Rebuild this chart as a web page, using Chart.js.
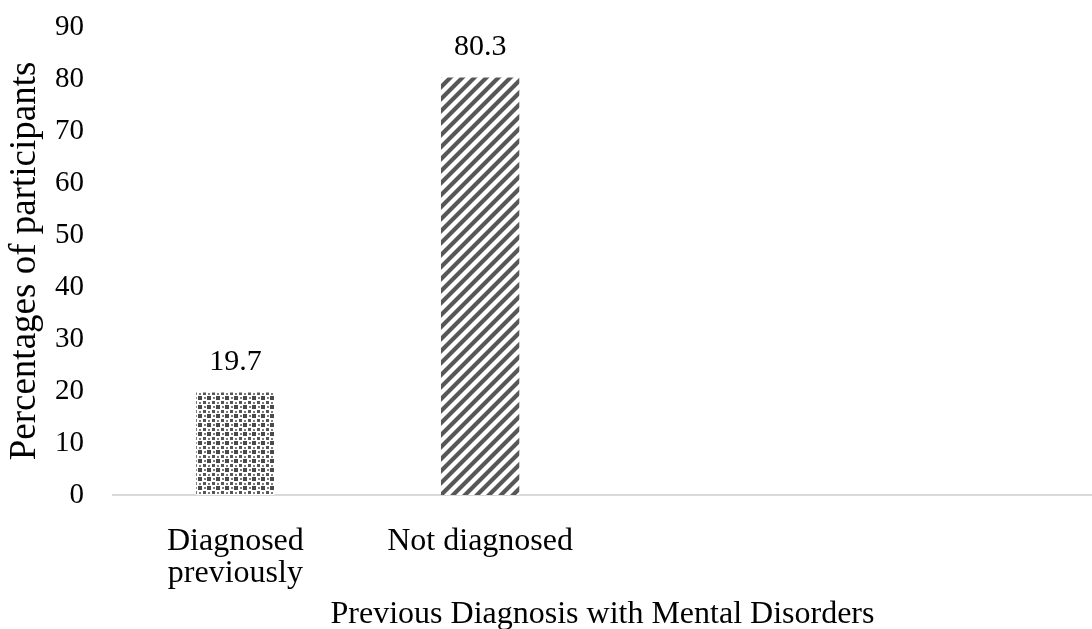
<!DOCTYPE html>
<html>
<head>
<meta charset="utf-8">
<script src="https://cdn.jsdelivr.net/npm/chart.js@4/dist/chart.umd.min.js"></script>
<style>
  html, body { margin: 0; padding: 0; background: #ffffff; }
  #wrap { width: 1092px; height: 629px; position: relative; }
</style>
</head>
<body>
<div id="wrap"><canvas id="chart"></canvas></div>
<script>
// Categories on the x axis (two empty slots keep the plot wide)
const categories = [['Diagnosed', 'previously'], 'Not diagnosed', '', ''];
// Percentage of participants per category
const percentages = [19.7, 80.3, null, null];
// Y axis range
const yMin = 0;
const yMax = 90;
const yStep = 10;

const SERIF = '"Liberation Serif", "Times New Roman", serif';

// Fill patterns for the bars
function checkerPattern() {
  const c = document.createElement('canvas');
  c.width = 9; c.height = 9;
  const g = c.getContext('2d');
  g.fillStyle = '#ffffff';
  g.fillRect(0, 0, 9, 9);
  g.fillStyle = '#4a4a4a';
  g.fillRect(0, 0, 4, 4);
  g.fillStyle = '#565656';
  g.fillRect(5, 5, 3, 3);
  g.fillStyle = '#7a7a7a';
  g.fillRect(6, 1, 2, 2);
  g.fillRect(1, 6, 2, 2);
  return g.createPattern(c, 'repeat');
}

function stripePattern() {
  const s = 12;
  const c = document.createElement('canvas');
  c.width = s; c.height = s;
  const g = c.getContext('2d');
  g.fillStyle = '#ffffff';
  g.fillRect(0, 0, s, s);
  g.strokeStyle = '#575757';
  g.lineWidth = 4.2;
  g.beginPath();
  g.moveTo(-s, 2 * s); g.lineTo(2 * s, -s);
  g.moveTo(-s, s); g.lineTo(s, -s);
  g.moveTo(0, 2 * s); g.lineTo(2 * s, 0);
  g.stroke();
  return g.createPattern(c, 'repeat');
}

const fills = [checkerPattern(), stripePattern(), '#ffffff', '#ffffff'];

// Value labels above each bar
const valueLabels = {
  id: 'valueLabels',
  afterDatasetsDraw(chart) {
    const ctx = chart.ctx;
    const meta = chart.getDatasetMeta(0);
    ctx.save();
    ctx.font = '30px ' + SERIF;
    ctx.fillStyle = '#000000';
    ctx.textAlign = 'center';
    ctx.textBaseline = 'middle';
    meta.data.forEach((bar, i) => {
      const v = percentages[i];
      if (v === null || v === undefined) return;
      ctx.fillText(v.toFixed(1), bar.x, bar.y - 30);
    });
    ctx.restore();
  }
};

new Chart(document.getElementById('chart'), {
  type: 'bar',
  data: {
    labels: categories,
    datasets: [{
      data: percentages,
      backgroundColor: fills,
      borderWidth: 0,
      categoryPercentage: 1.0,
      barPercentage: 0.32
    }]
  },
  options: {
    responsive: true,
    maintainAspectRatio: false,
    animation: false,
    layout: { padding: { top: 27, right: 0, bottom: 0, left: 0 } },
    plugins: {
      legend: { display: false },
      tooltip: { enabled: false }
    },
    scales: {
      x: {
        grid: { display: false, drawTicks: false },
        border: { display: true, color: '#d9d9d9', width: 2 },
        ticks: {
          color: '#000000',
          font: { family: SERIF, size: 32, lineHeight: 1.0 },
          padding: 31,
          maxRotation: 0,
          autoSkip: false
        },
        title: {
          display: true,
          text: 'Previous Diagnosis with Mental Disorders',
          color: '#000000',
          font: { family: SERIF, size: 32, lineHeight: 1.0 },
          padding: { top: 0, bottom: -2 }
        },
        afterFit(scale) { scale.height = 134; }
      },
      y: {
        min: yMin,
        max: yMax,
        grid: { display: false, drawTicks: false },
        border: { display: false },
        ticks: {
          stepSize: yStep,
          color: '#000000',
          font: { family: SERIF, size: 29 },
          padding: 29
        },
        title: {
          display: true,
          text: 'Percentages of participants',
          color: '#000000',
          font: { family: SERIF, size: 37, lineHeight: 1.0 },
          padding: { top: 7, bottom: 0 }
        },
        afterFit(scale) {
          scale.width = 113;
          scale.paddingTop = 15;
          scale.paddingBottom = 0;
        }
      }
    }
  },
  plugins: [valueLabels]
});
</script>
</body>
</html>
